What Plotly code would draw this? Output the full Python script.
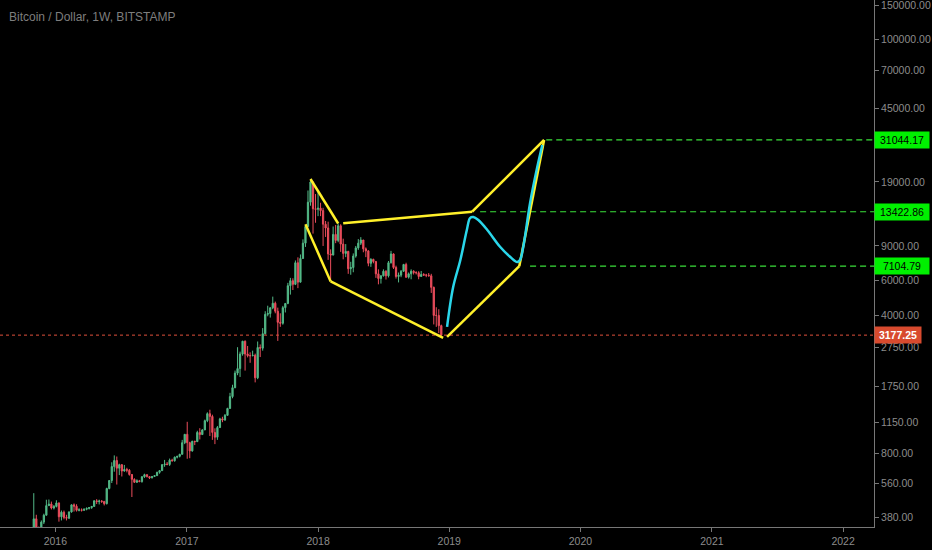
import plotly.graph_objects as go
import numpy as np
import pandas as pd

# ---------------- data (weekly BTC/USD, Bitstamp) ----------------
first_week = "2015-11-02"
first_open = 325

closes = [
    372, 332, 326, 358, 388, 434, 442, 422, 430,  # 2015
    448, 381, 402, 378, 375, 403, 438, 431, 411, 413, 411, 416, 420, 424, 430, 459, 455,
    458, 456, 444, 530, 582, 685, 735, 672, 700, 650, 662, 656, 624, 590, 570, 580, 575,
    608, 623, 609, 600, 610, 616, 640, 653, 700, 705, 702, 738, 733, 764, 772, 790, 905, 998,  # 2016
    905, 822, 920, 916, 1020, 995, 1050, 1170, 1270, 1230, 1020, 965, 1080, 1195, 1180, 1245,
    1350, 1550, 1720, 2040, 2150, 2550, 2960, 2550, 2500, 2500, 2510, 1930, 2750, 2730, 3230,
    4050, 4090, 4370, 4610, 4200, 3690, 3650, 4380, 4600, 5660, 6000, 5750, 7400, 5900, 7780,
    9300, 11300, 15000, 19000, 13900, 13800,  # 2017
    14000, 13600, 11600, 11100, 8200, 8100, 10300, 9600, 11400, 9200, 8250, 8450, 6900, 7000,
    8000, 8800, 9300, 9650, 8700, 8500, 7350, 7700, 7500, 6500, 6150, 6350, 6700, 6350, 7400,
    8200, 7000, 6300, 6400, 6700, 7250, 6250, 6500, 6700, 6600, 6580, 6300, 6450, 6400, 6400,
    6350, 5550, 4000, 4000, 3550, 3177.25,  # 2018
]
highs = [
    502, 390, 340, 365, 395, 465, 466, 455, 437,
    462, 450, 410, 410, 390, 406, 440, 445, 441, 421, 420, 420, 425, 426, 432, 462, 468,
    465, 462, 456, 535, 585, 720, 780, 770, 708, 705, 698, 675, 665, 628, 597, 590, 586,
    612, 630, 625, 612, 612, 620, 645, 657, 705, 740, 722, 752, 750, 770, 775, 795, 935, 1000,
    1155, 915, 925, 925, 1040, 1072, 1060, 1185, 1290, 1330, 1255, 1070, 1100, 1210, 1225, 1265,
    1360, 1620, 1780, 2100, 2760, 2620, 2970, 2985, 2800, 2600, 2650, 2560, 2950, 2850, 3450,
    4200, 4480, 4400, 4980, 4700, 4380, 4100, 4470, 4620, 5850, 6200, 6170, 7600, 7880, 8150,
    9720, 11400, 17200, 19666, 19100, 16500,
    17200, 14900, 14050, 12050, 11950, 8650, 11300, 11500, 11700, 11600, 9800, 9200, 8500, 7480,
    8250, 9000, 9750, 9980, 9650, 8850, 8550, 7800, 7750, 7560, 6850, 6400, 6850, 6780, 7550,
    8500, 8250, 7150, 6600, 6800, 7300, 7400, 6600, 6850, 6780, 6700, 6700, 6720, 6550, 6500,
    6560, 6500, 5600, 4400, 4300, 3590,
]
lows = [
    320, 305, 313, 316, 350, 387, 433, 415, 415,
    425, 360, 365, 370, 365, 371, 400, 405, 405, 406, 405, 408, 411, 415, 418, 429, 442,
    440, 448, 435, 440, 525, 565, 645, 555, 620, 610, 645, 640, 616, 480, 565, 566, 570,
    567, 600, 603, 592, 597, 606, 615, 630, 651, 683, 695, 690, 726, 725, 753, 762, 790, 890,
    750, 755, 815, 880, 912, 940, 990, 1050, 1150, 978, 935, 890, 935, 1075, 1150, 1168,
    1240, 1345, 1520, 1710, 1990, 1950, 2500, 2100, 2450, 2300, 2480, 1830, 1900, 2460, 2650,
    3200, 3960, 3900, 4300, 4100, 2970, 3500, 3590, 4140, 4560, 5100, 5380, 5700, 5500, 5870,
    7750, 8900, 11200, 14400, 10400, 11800,
    12750, 12750, 9000, 10000, 7650, 6000, 8050, 9300, 9400, 8400, 7700, 7900, 6500, 6430,
    6620, 7850, 8600, 9100, 8360, 7900, 7100, 7050, 7350, 6200, 5750, 5800, 6300, 6080, 6230,
    7330, 6880, 6150, 5880, 6250, 6650, 6200, 6150, 6100, 6450, 6450, 6100, 6300, 6380, 6250,
    6300, 5200, 3600, 3500, 3250, 3150,
]

# drawn pattern (yellow) segments: (dates, prices)
seg_xa = (["2017-12-11", "2018-02-26"], [19666, 11700])
seg_xb = (["2017-11-27", "2018-02-05"], [11600, 5950])
seg_bd = (["2018-02-05", "2018-12-15"], [5950, 3080])
seg_ac = (["2018-03-12", "2019-03-06"], [11750, 13422.86])
seg_de = (["2018-12-26", "2019-07-15"], [3110, 7104.79])
seg_ef = (["2019-07-15", "2019-09-22"], [7104.79, 31044.17])
seg_cf = (["2019-03-06", "2019-09-22"], [13422.86, 31044.17])
yellow_segments = [seg_xa, seg_xb, seg_bd, seg_ac, seg_de, seg_ef, seg_cf]

# projected path (cyan)
cyan_dates = ["2018-12-26", "2019-01-12", "2019-02-01", "2019-02-19", "2019-02-28",
              "2019-03-09", "2019-03-23", "2019-04-17", "2019-05-23", "2019-06-20",
              "2019-07-09", "2019-07-17", "2019-07-26", "2019-08-14", "2019-09-03",
              "2019-09-17"]
cyan_prices = [3500, 5573, 7638, 10845, 12475, 12620, 12185, 10845, 8892, 7912,
               7463, 7638, 8892, 14866, 22620, 29260]

# target levels (green dashed) and last price (red dotted)
target_levels = [31044.17, 13422.86, 7104.79]
target_starts = ["2019-09-28", "2019-03-28", "2019-08-14"]
last_price = 3177.25

y_tickvals = [380, 560, 800, 1150, 1750, 2750, 4000, 6000, 9000, 19000,
              45000, 70000, 100000, 150000]
x_tickvals = ["2016-01-01", "2017-01-01", "2018-01-01", "2019-01-01",
              "2020-01-01", "2021-01-01", "2022-01-01"]
x_ticktext = ["2016", "2017", "2018", "2019", "2020", "2021", "2022"]

x_range = ["2015-07-31", "2022-03-28"]
y_range = [2.5291, 5.2015]

# ---------------- figure ----------------
dates = pd.date_range(first_week, periods=len(closes), freq="7D")
opens = [first_open] + closes[:-1]

UP = "#53b987"
DOWN = "#eb4d5c"
YELLOW = "#fff02a"
CYAN = "#2ad6ea"
GREEN = "#3be03b"
RED = "#e0503c"
GREY = "#8c8c8c"
AXIS = "#777777"
FONT = "Liberation Sans, Arial, sans-serif"

fig = go.Figure()

fig.add_trace(go.Scatter(
    x=[x_range[0], x_range[1]], y=[last_price, last_price], mode="lines",
    line=dict(color=RED, width=1, dash="dot"), hoverinfo="skip", showlegend=False))

fig.add_trace(go.Candlestick(
    x=dates, open=opens, high=highs, low=lows, close=closes,
    increasing=dict(line=dict(color=UP, width=1), fillcolor=UP),
    decreasing=dict(line=dict(color=DOWN, width=1), fillcolor=DOWN),
    whiskerwidth=0, showlegend=False))

for lvl, st in zip(target_levels, target_starts):
    fig.add_trace(go.Scatter(
        x=[st, x_range[1]], y=[lvl, lvl], mode="lines",
        line=dict(color=GREEN, width=1.2, dash="6px,4px"),
        hoverinfo="skip", showlegend=False))

for sx, sy in yellow_segments:
    fig.add_trace(go.Scatter(
        x=sx, y=sy, mode="lines", line=dict(color=YELLOW, width=2.5),
        hoverinfo="skip", showlegend=False))

fig.add_trace(go.Scatter(
    x=cyan_dates, y=cyan_prices, mode="lines",
    line=dict(color=CYAN, width=2.5, shape="spline", smoothing=1.0),
    hoverinfo="skip", showlegend=False))

annotations = [dict(
    text="Bitcoin / Dollar, 1W, BITSTAMP", xref="paper", yref="paper",
    x=0, y=1, xanchor="left", yanchor="middle", xshift=7, yshift=-17,
    showarrow=False, font=dict(family=FONT, size=12, color="#7e7e7e"))]

for lvl in target_levels:
    annotations.append(dict(
        text=f"{lvl:.2f}", xref="paper", yref="y", x=1, y=float(np.log10(lvl)),
        xanchor="left", yanchor="middle", showarrow=False, bgcolor="#00f000",
        borderpad=2, width=50, align="center",
        font=dict(family=FONT, size=10.5, color="#000000")))

annotations.append(dict(
    text=f"<b>{last_price:.2f}</b>", xref="paper", yref="y", x=1,
    y=float(np.log10(last_price)), xanchor="left", yanchor="middle", showarrow=False,
    bgcolor="#d84a2e", borderpad=2, width=42, align="center",
    font=dict(family=FONT, size=10.5, color="#ffffff")))

fig.update_layout(
    width=932, height=550,
    margin=dict(l=0, r=58, t=0, b=23, autoexpand=False),
    paper_bgcolor="#000000", plot_bgcolor="#000000",
    showlegend=False,
    annotations=annotations,
    xaxis=dict(
        type="date", range=x_range, rangeslider=dict(visible=False), automargin=False,
        tickvals=x_tickvals, ticktext=x_ticktext, showgrid=False, zeroline=False,
        showline=True, linecolor=AXIS, linewidth=1, ticks="outside", ticklen=4,
        tickcolor=AXIS, tickfont=dict(family=FONT, size=10.5, color=GREY)),
    yaxis=dict(
        type="log", range=y_range, side="right", tickvals=y_tickvals, automargin=False,
        ticklabeloverflow="allow",
        ticktext=[f"{v:.2f}" for v in y_tickvals], showgrid=False, zeroline=False,
        showline=True, linecolor=AXIS, linewidth=1, ticks="outside", ticklen=4,
        tickcolor=AXIS, tickfont=dict(family=FONT, size=10.5, color=GREY)),
)

fig.write_html(
    "out.html",
    config={"displayModeBar": False},
    post_script="document.body.style.margin='0';document.body.style.background='#000';",
)
